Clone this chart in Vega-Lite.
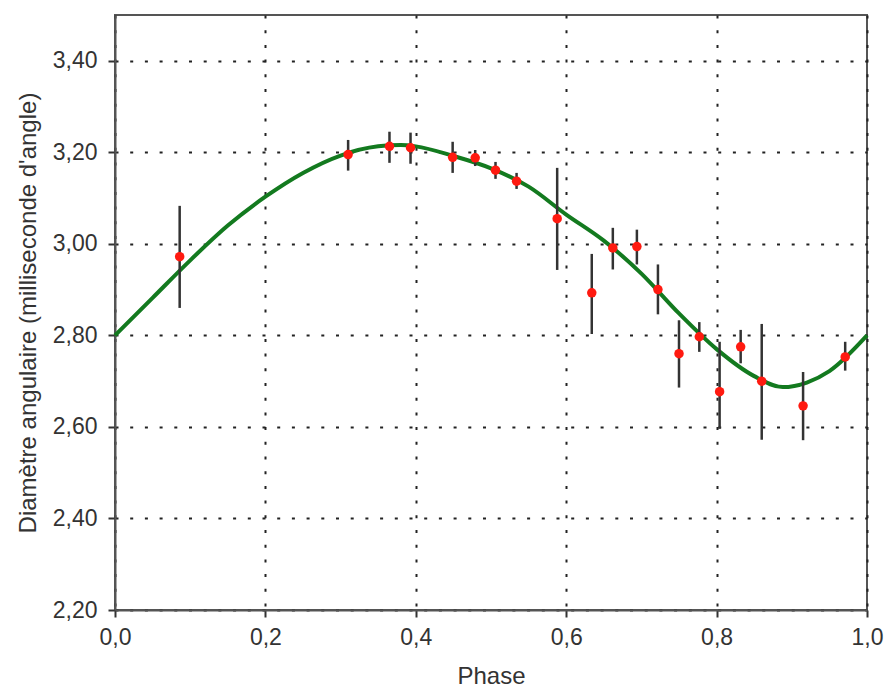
{
  "$schema": "https://vega.github.io/schema/vega-lite/v6.json",
  "width": 752,
  "height": 595,
  "autosize": {"type": "none"},
  "padding": {"left": 115, "top": 15, "right": 20, "bottom": 78},
  "background": "white",
  "config": {
    "view": {"stroke": "#555555", "strokeWidth": 2},
    "axis": {
      "labelFont": "Liberation Sans",
      "titleFont": "Liberation Sans",
      "labelFontSize": 23,
      "titleFontSize": 24,
      "labelColor": "#333333",
      "titleColor": "#333333",
      "titleFontWeight": "normal",
      "domainColor": "#555555",
      "domainWidth": 2,
      "tickColor": "#333333",
      "tickWidth": 2,
      "tickSize": 7,
      "labelFlush": false,
      "gridColor": "#222222",
      "gridWidth": 2,
      "gridDash": [3, 11.7],
      "gridOpacity": 1
    }
  },
  "datasets": {
    "obs": [
      {"phase": 0.086, "diam": 2.972, "lo": 2.860, "hi": 3.083},
      {"phase": 0.310, "diam": 3.195, "lo": 3.160, "hi": 3.227},
      {"phase": 0.365, "diam": 3.213, "lo": 3.177, "hi": 3.245},
      {"phase": 0.393, "diam": 3.210, "lo": 3.175, "hi": 3.243},
      {"phase": 0.449, "diam": 3.189, "lo": 3.155, "hi": 3.223},
      {"phase": 0.479, "diam": 3.188, "lo": 3.170, "hi": 3.205},
      {"phase": 0.506, "diam": 3.161, "lo": 3.142, "hi": 3.179},
      {"phase": 0.534, "diam": 3.137, "lo": 3.120, "hi": 3.155},
      {"phase": 0.588, "diam": 3.055, "lo": 2.943, "hi": 3.166},
      {"phase": 0.634, "diam": 2.893, "lo": 2.803, "hi": 2.978},
      {"phase": 0.662, "diam": 2.991, "lo": 2.944, "hi": 3.035},
      {"phase": 0.694, "diam": 2.994, "lo": 2.955, "hi": 3.031},
      {"phase": 0.722, "diam": 2.900, "lo": 2.846, "hi": 2.955},
      {"phase": 0.750, "diam": 2.760, "lo": 2.686, "hi": 2.833},
      {"phase": 0.777, "diam": 2.797, "lo": 2.764, "hi": 2.829},
      {"phase": 0.804, "diam": 2.677, "lo": 2.596, "hi": 2.786},
      {"phase": 0.832, "diam": 2.775, "lo": 2.739, "hi": 2.812},
      {"phase": 0.860, "diam": 2.700, "lo": 2.572, "hi": 2.825},
      {"phase": 0.915, "diam": 2.646, "lo": 2.571, "hi": 2.720},
      {"phase": 0.971, "diam": 2.753, "lo": 2.723, "hi": 2.786}
    ],
    "fit": [
      {"phase": 0.00, "diam": 2.800},
      {"phase": 0.05, "diam": 2.882},
      {"phase": 0.10, "diam": 2.964},
      {"phase": 0.15, "diam": 3.040},
      {"phase": 0.20, "diam": 3.103},
      {"phase": 0.25, "diam": 3.155},
      {"phase": 0.30, "diam": 3.193},
      {"phase": 0.35, "diam": 3.213},
      {"phase": 0.38, "diam": 3.216},
      {"phase": 0.40, "diam": 3.213},
      {"phase": 0.45, "diam": 3.192},
      {"phase": 0.50, "diam": 3.165},
      {"phase": 0.55, "diam": 3.125},
      {"phase": 0.60, "diam": 3.064},
      {"phase": 0.65, "diam": 3.007},
      {"phase": 0.70, "diam": 2.935},
      {"phase": 0.75, "diam": 2.848},
      {"phase": 0.80, "diam": 2.770},
      {"phase": 0.85, "diam": 2.711},
      {"phase": 0.888, "diam": 2.687},
      {"phase": 0.92, "diam": 2.697},
      {"phase": 0.95, "diam": 2.722},
      {"phase": 1.00, "diam": 2.800}
    ]
  },
  "layer": [
    {
      "data": {"name": "fit"},
      "mark": {"type": "line", "interpolate": "monotone", "color": "#137a1f", "strokeWidth": 4},
      "encoding": {
        "x": {
          "field": "phase", "type": "quantitative",
          "scale": {"domain": [0, 1], "nice": false, "zero": false},
          "axis": {
            "title": "Phase",
            "values": [0, 0.2, 0.4, 0.6, 0.8, 1.0],
            "labelExpr": "replace(format(datum.value, '.1f'), '.', ',')",
            "labelPadding": 9,
            "titlePadding": 15
          }
        },
        "y": {
          "field": "diam", "type": "quantitative",
          "scale": {"domain": [2.2, 3.5], "nice": false, "zero": false},
          "axis": {
            "title": "Diamètre angulaire (milliseconde d'angle)",
            "values": [2.2, 2.4, 2.6, 2.8, 3.0, 3.2, 3.4],
            "labelExpr": "replace(format(datum.value, '.2f'), '.', ',')",
            "labelPadding": 11,
            "titlePadding": 12
          }
        }
      }
    },
    {
      "data": {"name": "obs"},
      "mark": {"type": "rule", "color": "#333333", "strokeWidth": 2.5},
      "encoding": {
        "x": {"field": "phase", "type": "quantitative"},
        "y": {"field": "lo", "type": "quantitative"},
        "y2": {"field": "hi"}
      }
    },
    {
      "data": {"name": "obs"},
      "mark": {"type": "circle", "color": "#ff1a10", "opacity": 1, "size": 90},
      "encoding": {
        "x": {"field": "phase", "type": "quantitative"},
        "y": {"field": "diam", "type": "quantitative"}
      }
    }
  ]
}
